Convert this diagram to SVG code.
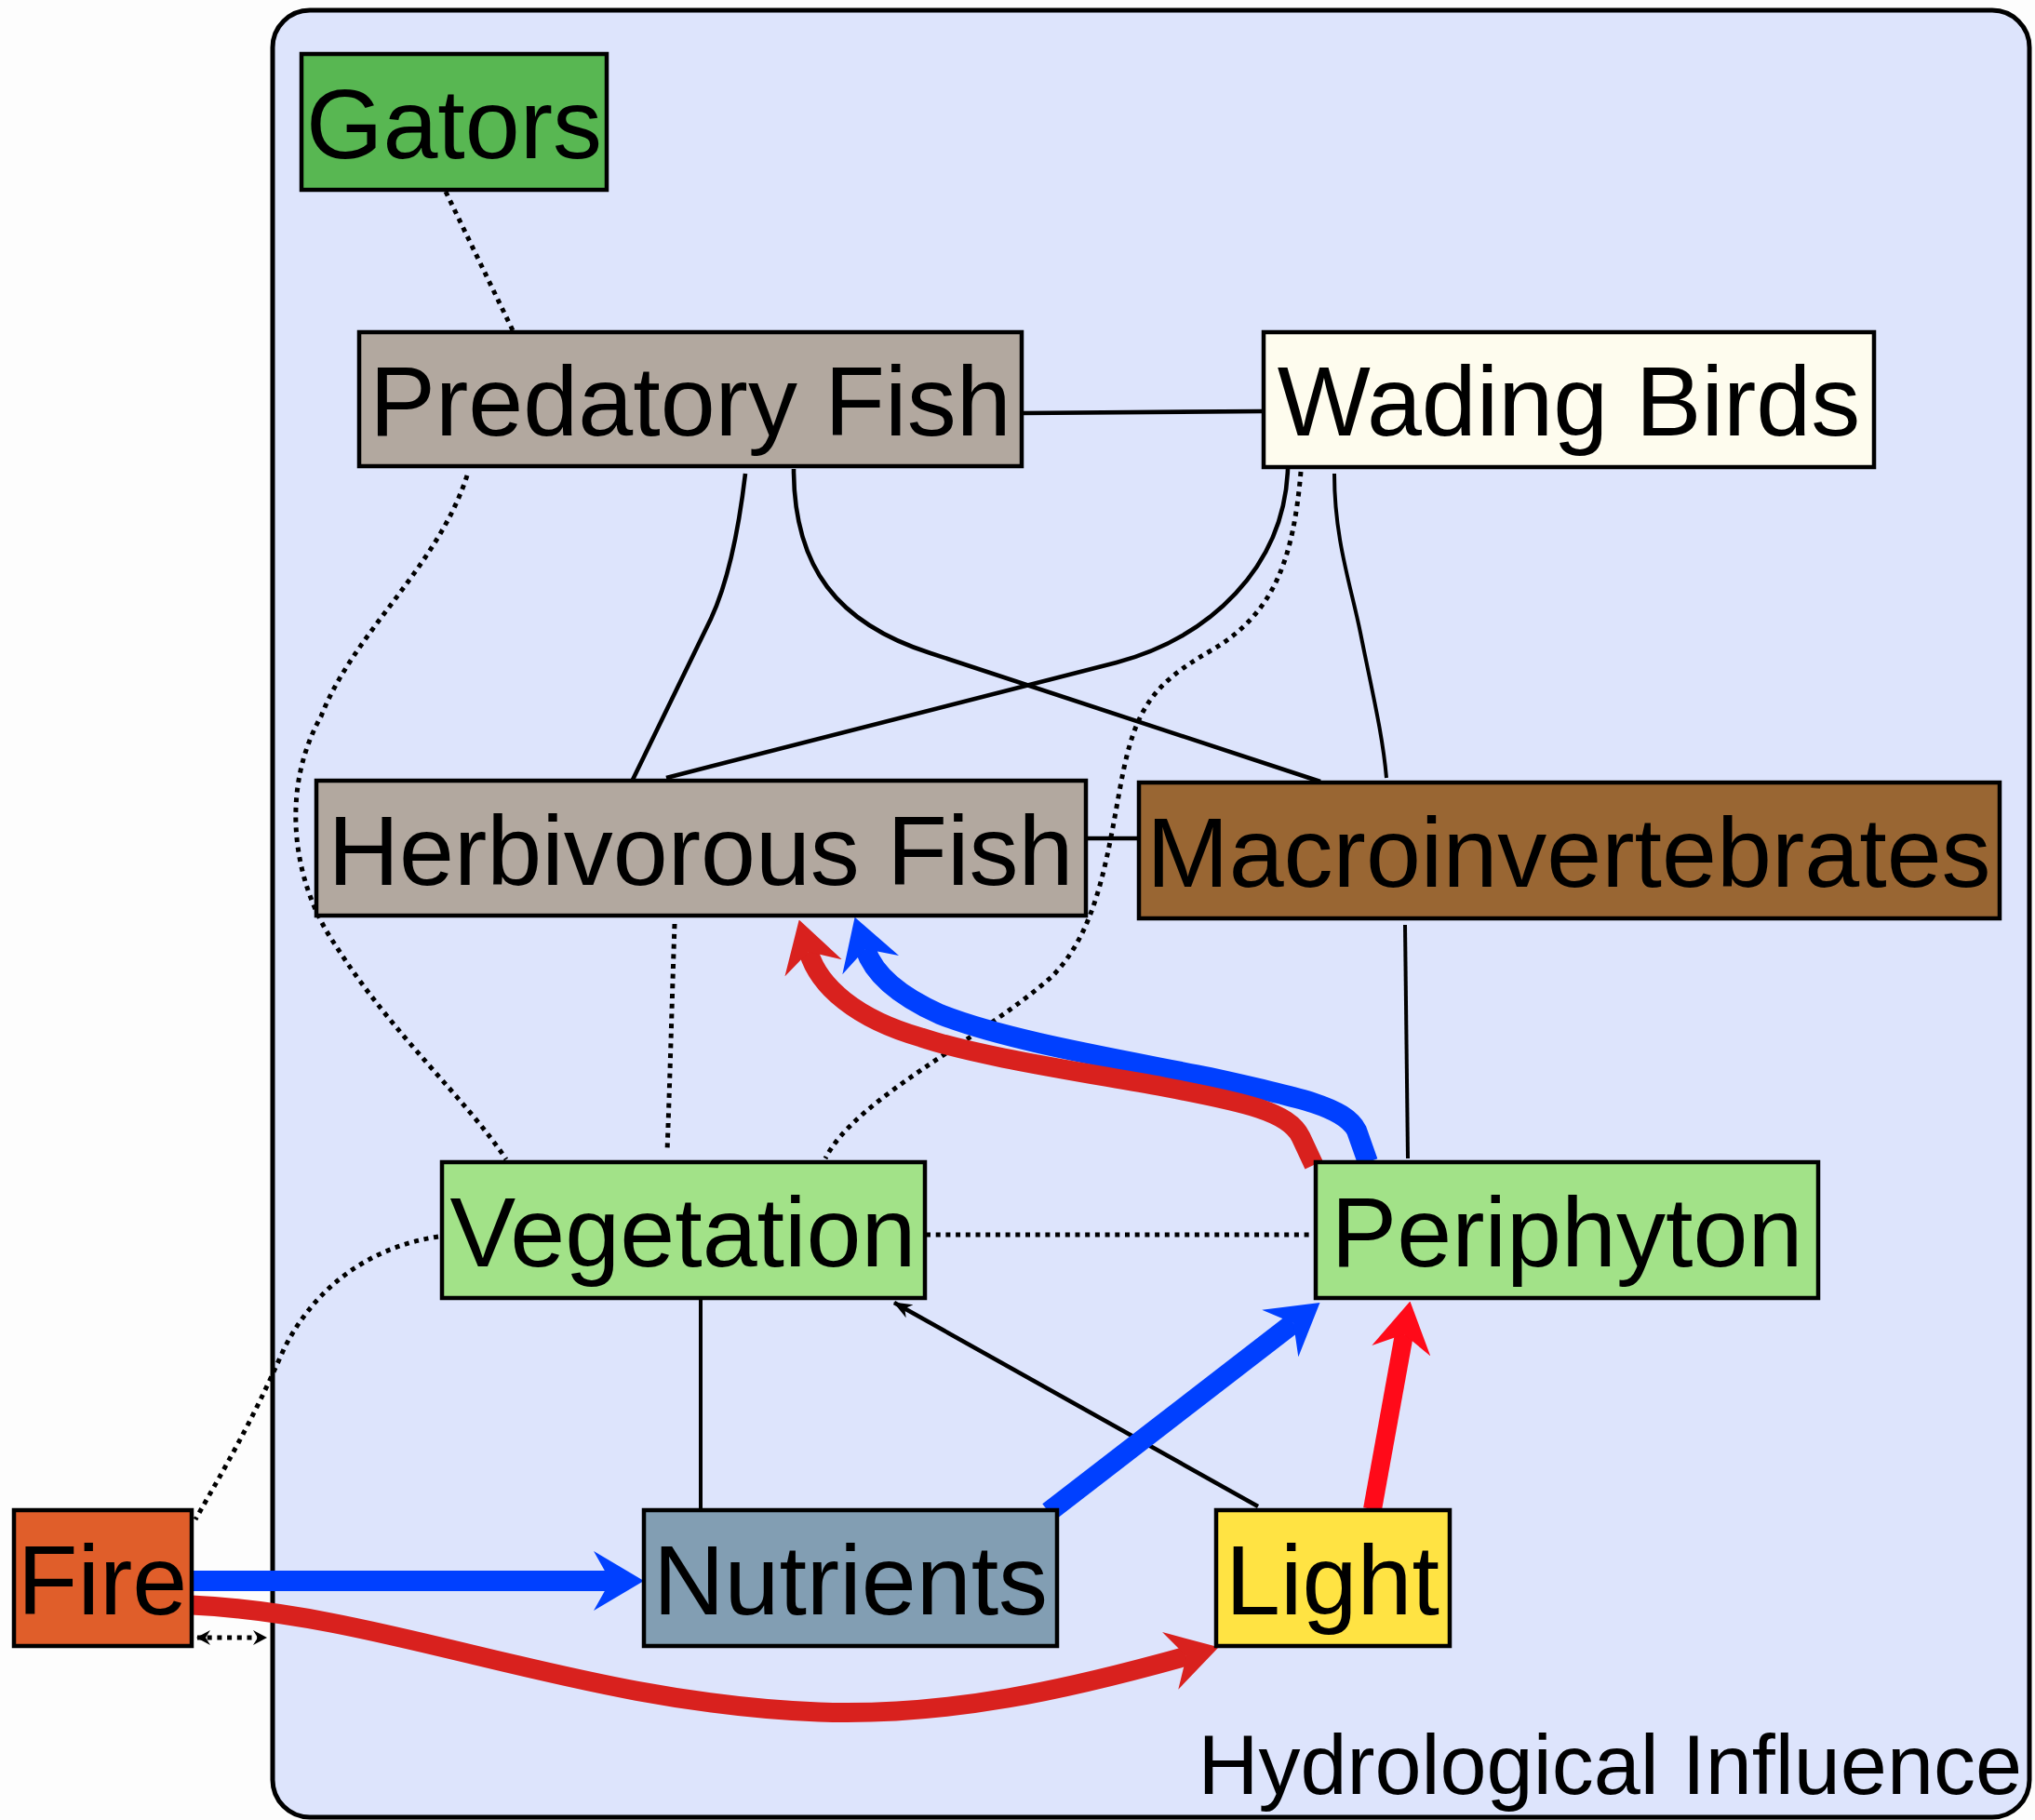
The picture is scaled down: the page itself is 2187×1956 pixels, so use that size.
<svg xmlns="http://www.w3.org/2000/svg" width="2187" height="1956" viewBox="0 0 2187 1956">
<style>
.box{stroke:#000;stroke-width:4.5}
.lbl{font-family:"Liberation Sans",Arial,sans-serif;font-size:106px;fill:#000;text-anchor:middle}
.solid{fill:none;stroke:#000;stroke-width:4.6}
.thin{fill:none;stroke:#000;stroke-width:4}
.dot{fill:none;stroke:#000;stroke-width:5;stroke-dasharray:5 5.7}
.blue{fill:none;stroke:#0040ff;stroke-width:22}
.red{fill:none;stroke:#d9211e;stroke-width:21}
.red2{fill:none;stroke:#ff0a19;stroke-width:20}
</style>
<defs>
<marker id="ahBlue" markerUnits="userSpaceOnUse" viewBox="0 -32 54 64" refX="18" refY="0" markerWidth="54" markerHeight="64" orient="auto"><path d="M0,-32 L54,0 L0,32 L18,0 Z" fill="#0040ff"/></marker>
<marker id="ahRed" markerUnits="userSpaceOnUse" viewBox="0 -32 54 64" refX="18" refY="0" markerWidth="54" markerHeight="64" orient="auto"><path d="M0,-32 L54,0 L0,32 L18,0 Z" fill="#d9211e"/></marker>
<marker id="ahRed2" markerUnits="userSpaceOnUse" viewBox="0 -32 54 64" refX="18" refY="0" markerWidth="54" markerHeight="64" orient="auto"><path d="M0,-32 L54,0 L0,32 L18,0 Z" fill="#ff0a19"/></marker>
<marker id="ahSmall" markerUnits="userSpaceOnUse" viewBox="0 -9 20 18" refX="19" refY="0" markerWidth="20" markerHeight="18" orient="auto"><path d="M0,-8 L20,0 L0,8 L6,0 Z" fill="#000"/></marker>
<marker id="ahTiny" markerUnits="userSpaceOnUse" viewBox="0 -9 15 18" refX="14" refY="0" markerWidth="15" markerHeight="18" orient="auto-start-reverse"><path d="M0,-8 L15,0 L0,8 L5,0 Z" fill="#000"/></marker>
</defs>
<rect x="0" y="0" width="2187" height="1956" fill="#fdfdfd"/>
<rect id="hydro" x="293" y="11" width="1888" height="1942" rx="40" ry="40" fill="#dde4fc" stroke="#000" stroke-width="5"/>
<text x="2173" y="1928" font-family="Liberation Sans, Arial, sans-serif" font-size="90" text-anchor="end" fill="#000">Hydrological Influence</text>

<g id="connectors">
<path class="dot" d="M479,206 L551,355"/>
<path class="solid" d="M1098,444 L1356,442"/>
<path class="solid" d="M801,509 C795,560 785,620 764,665 L679,840"/>
<path class="solid" d="M853,504 C853,610 900,670 1000,702 L1419,840"/>
<path class="solid" d="M1384,504 C1380,610 1300,685 1200,712 L716,836"/>
<path class="thin" d="M1434,509 C1434,580 1452,630 1462,680 C1475,745 1486,790 1490,836"/>
<path class="dot" d="M1398,507 C1390,600 1370,660 1300,700 C1240,735 1220,760 1205,840 C1190,920 1180,1000 1130,1050 C1050,1120 920,1180 887,1245"/>
<path class="dot" d="M502,511 C470,610 380,680 345,770 C300,850 315,950 360,1015 C420,1110 500,1180 544,1246"/>
<path class="dot" d="M725,993 C722,1080 720,1160 717,1238"/>
<path class="solid" d="M1167,901 L1224,901"/>
<path class="thin" d="M1510,994 L1513,1245"/>
<path class="dot" d="M995,1327 L1414,1327"/>
<path class="dot" d="M471,1329 C400,1340 340,1380 305,1450 C270,1530 240,1580 210,1633"/>
<path class="thin" d="M753,1395 L753,1623"/>
<path class="solid" d="M1352,1619 L961,1400" marker-end="url(#ahSmall)"/>
<path class="dot" d="M212,1760 L286,1760" marker-start="url(#ahTiny)" marker-end="url(#ahTiny)"/>
<path class="blue" d="M206,1699 L656,1699" marker-end="url(#ahBlue)"/>
<path class="red" d="M206,1725 C420,1735 620,1830 880,1840 C1020,1845 1150,1815 1275,1780" marker-end="url(#ahRed)"/>
<path class="blue" d="M1127,1625 L1390,1422" marker-end="url(#ahBlue)"/>
<path class="red2" d="M1475,1622 L1509,1434" marker-end="url(#ahRed2)"/>
<path class="blue" d="M1470,1249 L1458,1215 C1445,1190 1400,1180 1300,1158 C1200,1138 1080,1118 1010,1090 C970,1072 940,1050 930,1020" marker-end="url(#ahBlue)"/>
<path class="red" d="M1412,1252 L1398,1222 C1385,1195 1340,1185 1250,1168 C1150,1150 1050,1135 990,1115 C920,1095 880,1060 869,1023" marker-end="url(#ahRed)"/>
</g>

<g id="gators"><rect class="box" x="324" y="58" width="328" height="146" fill="#58b752"/><text class="lbl" x="488" y="170">Gators</text></g>
<g id="predatory-fish"><rect class="box" x="386" y="357" width="712" height="144" fill="#b2a89f"/><text class="lbl" x="742" y="468">Predatory Fish</text></g>
<g id="wading-birds"><rect class="box" x="1358" y="357" width="656" height="145" fill="#fefcee"/><text class="lbl" x="1686" y="468">Wading Birds</text></g>
<g id="herbivorous-fish"><rect class="box" x="340" y="839" width="827" height="145" fill="#b2a89f"/><text class="lbl" x="753" y="951">Herbivorous Fish</text></g>
<g id="macroinvertebrates"><rect class="box" x="1224" y="841" width="925" height="146" fill="#996633"/><text class="lbl" x="1686" y="953">Macroinvertebrates</text></g>
<g id="vegetation"><rect class="box" x="475" y="1249" width="519" height="146" fill="#a2e288"/><text class="lbl" x="734" y="1361">Vegetation</text></g>
<g id="periphyton"><rect class="box" x="1414" y="1249" width="540" height="146" fill="#a2e288"/><text class="lbl" x="1684" y="1361">Periphyton</text></g>
<g id="fire"><rect class="box" x="15" y="1623" width="191" height="146" fill="#e05e2a"/><text class="lbl" x="110" y="1735">Fire</text></g>
<g id="nutrients"><rect class="box" x="692" y="1623" width="444" height="146" fill="#829eb3"/><text class="lbl" x="914" y="1735">Nutrients</text></g>
<g id="light"><rect class="box" x="1307" y="1623" width="251" height="146" fill="#ffe343"/><text class="lbl" x="1432" y="1735">Light</text></g>
</svg>
